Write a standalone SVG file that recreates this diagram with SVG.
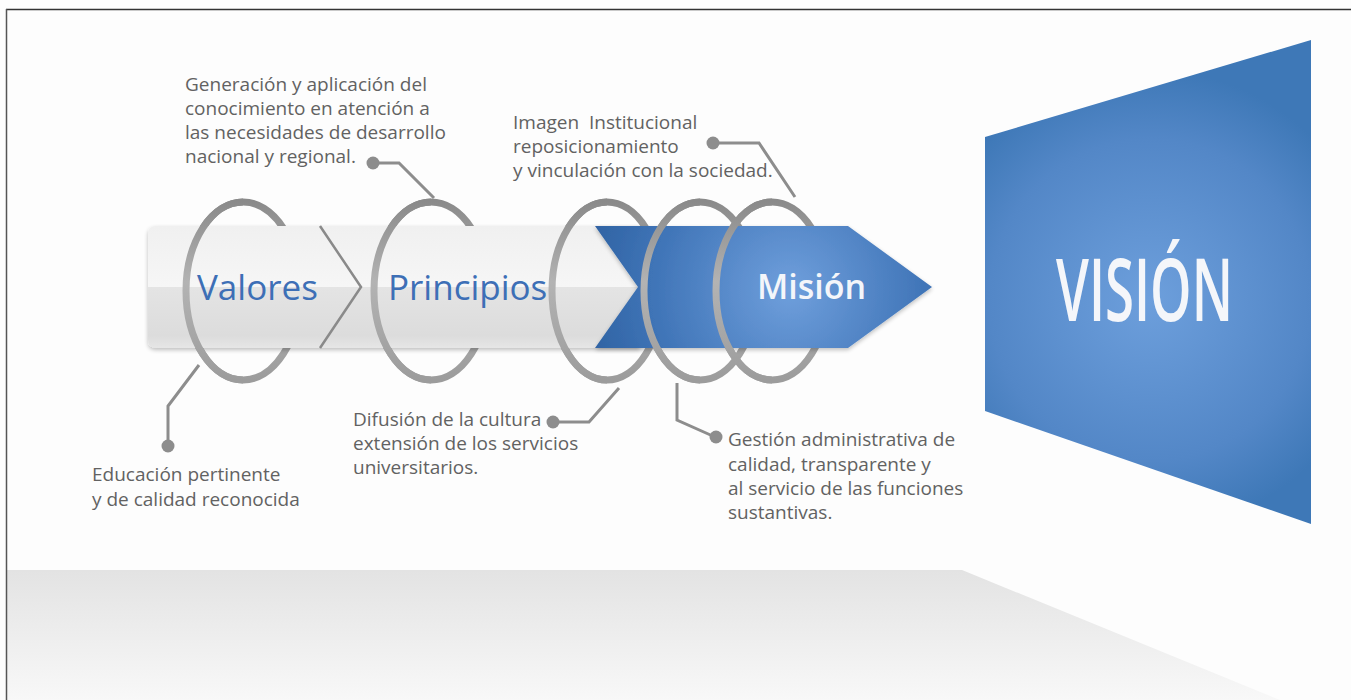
<svg xmlns="http://www.w3.org/2000/svg" width="1351" height="700" viewBox="0 0 1351 700">
<defs>
<linearGradient id="floor" x1="0" y1="0" x2="0" y2="1">
<stop offset="0" stop-color="#e3e3e3"/><stop offset="1" stop-color="#f8f8f8"/>
</linearGradient>
<linearGradient id="barTop" x1="0" y1="0" x2="0" y2="1">
<stop offset="0" stop-color="#f0f0f0"/><stop offset="1" stop-color="#f6f6f6"/>
</linearGradient>
<linearGradient id="barBot" x1="0" y1="0" x2="0" y2="1">
<stop offset="0" stop-color="#e4e4e4"/><stop offset="0.8" stop-color="#dcdcdc"/><stop offset="1" stop-color="#e6e6e6"/>
</linearGradient>
<radialGradient id="blueArrow" cx="790" cy="290" r="230" gradientUnits="userSpaceOnUse">
<stop offset="0" stop-color="#6f9fdc"/><stop offset="0.6" stop-color="#3f74b7"/><stop offset="1" stop-color="#2a5d9c"/>
</radialGradient>
<radialGradient id="bluePanel" cx="1150" cy="300" r="230" gradientUnits="userSpaceOnUse">
<stop offset="0" stop-color="#6d9fdc"/><stop offset="0.7" stop-color="#5387c7"/><stop offset="1" stop-color="#3e78b7"/>
</radialGradient>
<linearGradient id="ring" x1="0" y1="0" x2="0" y2="1">
<stop offset="0" stop-color="#8a8a8a"/><stop offset="0.45" stop-color="#b3b3b3"/><stop offset="1" stop-color="#9c9c9c"/>
</linearGradient>
<filter id="sh" x="-10%" y="-10%" width="120%" height="130%">
<feGaussianBlur in="SourceAlpha" stdDeviation="2"/><feOffset dy="2"/>
<feComponentTransfer><feFuncA type="linear" slope="0.25"/></feComponentTransfer>
<feMerge><feMergeNode/><feMergeNode in="SourceGraphic"/></feMerge>
</filter>
</defs>
<style>
.ring{fill:none;stroke:url(#ring);stroke-width:7}
.lead{fill:none;stroke:#8d8d8d;stroke-width:3}
.dot{fill:#8d8d8d}
.lbl{font-family:"Open Sans","Liberation Sans",sans-serif;font-size:19px;fill:#626262}
.big{font-family:"Open Sans","Liberation Sans",sans-serif;font-size:35px;fill:#3d6fb6}
</style>
<rect x="0" y="0" width="1351" height="700" fill="#fdfdfd"/>
<polygon points="7,570 962,570 1280,700 7,700" fill="url(#floor)"/>
<line x1="6" y1="9.5" x2="1351" y2="9.5" stroke="#333" stroke-width="1.5"/>
<line x1="6.5" y1="9" x2="6.5" y2="700" stroke="#555" stroke-width="1.5"/>

<g id="rings-back">
<ellipse class="ring" cx="243" cy="291" rx="57" ry="89"/>
<ellipse class="ring" cx="431" cy="291" rx="57" ry="89"/>
<ellipse class="ring" cx="607" cy="291" rx="55" ry="89"/>
<ellipse class="ring" cx="700" cy="291" rx="56" ry="89"/>
<ellipse class="ring" cx="772" cy="291" rx="56" ry="89"/>
</g>

<g id="bar" filter="url(#sh)">
<path d="M156,226 H640 V287 H148 V234 Q148,226 156,226 Z" fill="url(#barTop)"/>
<path d="M148,287 H640 V348 H156 Q148,348 148,340 Z" fill="url(#barBot)"/>
</g>
<polyline points="320,226 361,287 320,348" fill="none" stroke="#8a8a8a" stroke-width="2.5"/>

<g id="arrow-mision" filter="url(#sh)">
<polygon points="595,226 848,226 932,287 848,348 595,348 638,287" fill="url(#blueArrow)"/>
</g>

<g id="rings-front">
<path class="ring" d="M243,202 A57,89 0 0 0 243,380"/>
<path class="ring" d="M431,202 A57,89 0 0 0 431,380"/>
<path class="ring" d="M607,202 A55,89 0 0 0 607,380"/>
<path class="ring" d="M700,202 A56,89 0 0 0 700,380"/>
<path class="ring" d="M772,202 A56,89 0 0 0 772,380"/>
</g>

<g id="valores"><text class="big" x="197" y="300">Valores</text></g>
<g id="principios"><text class="big" x="388" y="300">Principios</text></g>
<g id="mision"><text x="757" y="299" font-family="'Open Sans','Liberation Sans',sans-serif" font-size="34" font-weight="600" fill="#f4f6fa">Misión</text></g>

<g id="vision">
<polygon points="985,137 1311,40 1311,524 985,411" fill="url(#bluePanel)"/>
<text x="1056" y="321" font-family="'Open Sans','Liberation Sans',sans-serif" font-size="86" font-weight="600" fill="#f4f6fa" textLength="177" lengthAdjust="spacingAndGlyphs">VISIÓN</text>
</g>

<g id="connectors">
<polyline class="lead" points="199,365 168,406 168,445"/>
<circle class="dot" cx="168" cy="446" r="6.5"/>
<polyline class="lead" points="434,198 399,163 373,163"/>
<circle class="dot" cx="373" cy="163" r="6.5"/>
<polyline class="lead" points="619,388 589,422 553,422"/>
<circle class="dot" cx="553" cy="422" r="6.5"/>
<polyline class="lead" points="677,383 677,420 715,437"/>
<circle class="dot" cx="716" cy="437" r="6.5"/>
<polyline class="lead" points="795,197 759,143 713,143"/>
<circle class="dot" cx="713" cy="143" r="6.5"/>
</g>

<g id="label-educacion">
<text class="lbl" x="92" y="481">Educación pertinente</text>
<text class="lbl" x="92" y="506">y de calidad reconocida</text>
</g>
<g id="label-generacion">
<text class="lbl" x="185" y="91">Generación y aplicación del</text>
<text class="lbl" x="185" y="115">conocimiento en atención a</text>
<text class="lbl" x="185" y="139">las necesidades de desarrollo</text>
<text class="lbl" x="185" y="163">nacional y regional.</text>
</g>
<g id="label-difusion">
<text class="lbl" x="353" y="426">Difusión de la cultura</text>
<text class="lbl" x="353" y="450">extensión de los servicios</text>
<text class="lbl" x="353" y="474">universitarios.</text>
</g>
<g id="label-gestion">
<text class="lbl" x="728" y="446">Gestión administrativa de</text>
<text class="lbl" x="728" y="471">calidad, transparente y</text>
<text class="lbl" x="728" y="495">al servicio de las funciones</text>
<text class="lbl" x="728" y="519">sustantivas.</text>
</g>
<g id="label-imagen">
<text class="lbl" x="513" y="129">Imagen&#160; Institucional</text>
<text class="lbl" x="513" y="153">reposicionamiento</text>
<text class="lbl" x="513" y="177">y vinculación con la sociedad.</text>
</g>
</svg>
